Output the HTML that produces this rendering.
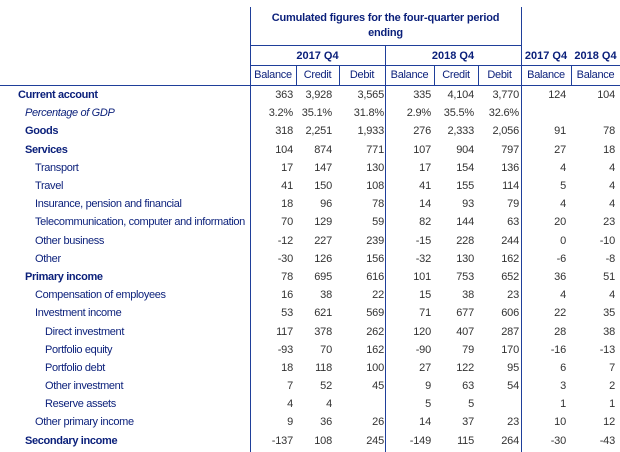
<!DOCTYPE html>
<html><head><meta charset="utf-8"><style>
body{margin:0;width:620px;height:452px;background:#fff;position:relative;font-family:"Liberation Sans",Arial,sans-serif;font-size:11px;overflow:hidden}
.l{position:absolute;background:#1f3f9a}
.h{position:absolute;color:#0a1f7a;font-weight:bold;text-align:center}
.s{position:absolute;color:#0a1f7a;text-align:center;top:69px;letter-spacing:-0.3px}
table{position:absolute;left:0;top:86px;border-collapse:collapse;table-layout:fixed;width:620px}
td{height:18.2px;padding:0;white-space:nowrap;color:#333;text-align:right;line-height:18px;overflow:hidden;letter-spacing:-0.2px}
td.n{text-align:left;color:#0a1f7a;letter-spacing:-0.35px}
.b{font-weight:bold}
.i{font-style:italic}
</style></head><body>
<div class="l" style="left:250px;top:7px;width:1px;height:445px"></div>
<div class="l" style="left:385px;top:46px;width:1px;height:406px"></div>
<div class="l" style="left:521px;top:7px;width:1px;height:445px"></div>
<div class="l" style="left:250px;top:45px;width:271px;height:1px"></div>
<div class="l" style="left:250px;top:65px;width:370px;height:1px"></div>
<div class="l" style="left:0;top:85px;width:620px;height:1px"></div>
<div class="l" style="left:296px;top:65px;width:1px;height:20px"></div>
<div class="l" style="left:339px;top:65px;width:1px;height:20px"></div>
<div class="l" style="left:434px;top:65px;width:1px;height:20px"></div>
<div class="l" style="left:478px;top:65px;width:1px;height:20px"></div>
<div class="l" style="left:571px;top:65px;width:1px;height:20px"></div>
<div class="h" style="left:250px;width:271px;top:11px;line-height:15px;letter-spacing:-0.2px">Cumulated figures for the four-quarter period<br>ending</div>
<div class="h" style="left:250px;width:135px;top:50px">2017 Q4</div>
<div class="h" style="left:385px;width:136px;top:50px">2018 Q4</div>
<div class="h" style="left:521px;width:50px;top:50px">2017 Q4</div>
<div class="h" style="left:571px;width:49px;top:50px">2018 Q4</div>
<div class="s" style="left:250px;width:46px">Balance</div>
<div class="s" style="left:296px;width:43px">Credit</div>
<div class="s" style="left:339px;width:46px">Debit</div>
<div class="s" style="left:385px;width:49px">Balance</div>
<div class="s" style="left:434px;width:44px">Credit</div>
<div class="s" style="left:478px;width:43px">Debit</div>
<div class="s" style="left:521px;width:50px">Balance</div>
<div class="s" style="left:571px;width:49px">Balance</div>
<table>
<colgroup><col style="width:250px"><col style="width:43px"><col style="width:39px"><col style="width:52px"><col style="width:47px"><col style="width:43px"><col style="width:45px"><col style="width:47px"><col style="width:49px"><col style="width:5px"></colgroup>
<tr><td class="n b" style="padding-left:18px">Current account</td><td>363</td><td>3,928</td><td>3,565</td><td>335</td><td>4,104</td><td>3,770</td><td>124</td><td>104</td><td></td></tr>
<tr><td class="n i" style="padding-left:25px">Percentage of GDP</td><td>3.2%</td><td>35.1%</td><td>31.8%</td><td>2.9%</td><td>35.5%</td><td>32.6%</td><td></td><td></td><td></td></tr>
<tr><td class="n b" style="padding-left:25px">Goods</td><td>318</td><td>2,251</td><td>1,933</td><td>276</td><td>2,333</td><td>2,056</td><td>91</td><td>78</td><td></td></tr>
<tr><td class="n b" style="padding-left:25px">Services</td><td>104</td><td>874</td><td>771</td><td>107</td><td>904</td><td>797</td><td>27</td><td>18</td><td></td></tr>
<tr><td class="n" style="padding-left:35px">Transport</td><td>17</td><td>147</td><td>130</td><td>17</td><td>154</td><td>136</td><td>4</td><td>4</td><td></td></tr>
<tr><td class="n" style="padding-left:35px">Travel</td><td>41</td><td>150</td><td>108</td><td>41</td><td>155</td><td>114</td><td>5</td><td>4</td><td></td></tr>
<tr><td class="n" style="padding-left:35px">Insurance, pension and financial</td><td>18</td><td>96</td><td>78</td><td>14</td><td>93</td><td>79</td><td>4</td><td>4</td><td></td></tr>
<tr><td class="n" style="padding-left:35px">Telecommunication, computer and information</td><td>70</td><td>129</td><td>59</td><td>82</td><td>144</td><td>63</td><td>20</td><td>23</td><td></td></tr>
<tr><td class="n" style="padding-left:35px">Other business</td><td>-12</td><td>227</td><td>239</td><td>-15</td><td>228</td><td>244</td><td>0</td><td>-10</td><td></td></tr>
<tr><td class="n" style="padding-left:35px">Other</td><td>-30</td><td>126</td><td>156</td><td>-32</td><td>130</td><td>162</td><td>-6</td><td>-8</td><td></td></tr>
<tr><td class="n b" style="padding-left:25px">Primary income</td><td>78</td><td>695</td><td>616</td><td>101</td><td>753</td><td>652</td><td>36</td><td>51</td><td></td></tr>
<tr><td class="n" style="padding-left:35px">Compensation of employees</td><td>16</td><td>38</td><td>22</td><td>15</td><td>38</td><td>23</td><td>4</td><td>4</td><td></td></tr>
<tr><td class="n" style="padding-left:35px">Investment income</td><td>53</td><td>621</td><td>569</td><td>71</td><td>677</td><td>606</td><td>22</td><td>35</td><td></td></tr>
<tr><td class="n" style="padding-left:45px">Direct investment</td><td>117</td><td>378</td><td>262</td><td>120</td><td>407</td><td>287</td><td>28</td><td>38</td><td></td></tr>
<tr><td class="n" style="padding-left:45px">Portfolio equity</td><td>-93</td><td>70</td><td>162</td><td>-90</td><td>79</td><td>170</td><td>-16</td><td>-13</td><td></td></tr>
<tr><td class="n" style="padding-left:45px">Portfolio debt</td><td>18</td><td>118</td><td>100</td><td>27</td><td>122</td><td>95</td><td>6</td><td>7</td><td></td></tr>
<tr><td class="n" style="padding-left:45px">Other investment</td><td>7</td><td>52</td><td>45</td><td>9</td><td>63</td><td>54</td><td>3</td><td>2</td><td></td></tr>
<tr><td class="n" style="padding-left:45px">Reserve assets</td><td>4</td><td>4</td><td></td><td>5</td><td>5</td><td></td><td>1</td><td>1</td><td></td></tr>
<tr><td class="n" style="padding-left:35px">Other primary income</td><td>9</td><td>36</td><td>26</td><td>14</td><td>37</td><td>23</td><td>10</td><td>12</td><td></td></tr>
<tr><td class="n b" style="padding-left:25px">Secondary income</td><td>-137</td><td>108</td><td>245</td><td>-149</td><td>115</td><td>264</td><td>-30</td><td>-43</td><td></td></tr>
</table>
</body></html>
